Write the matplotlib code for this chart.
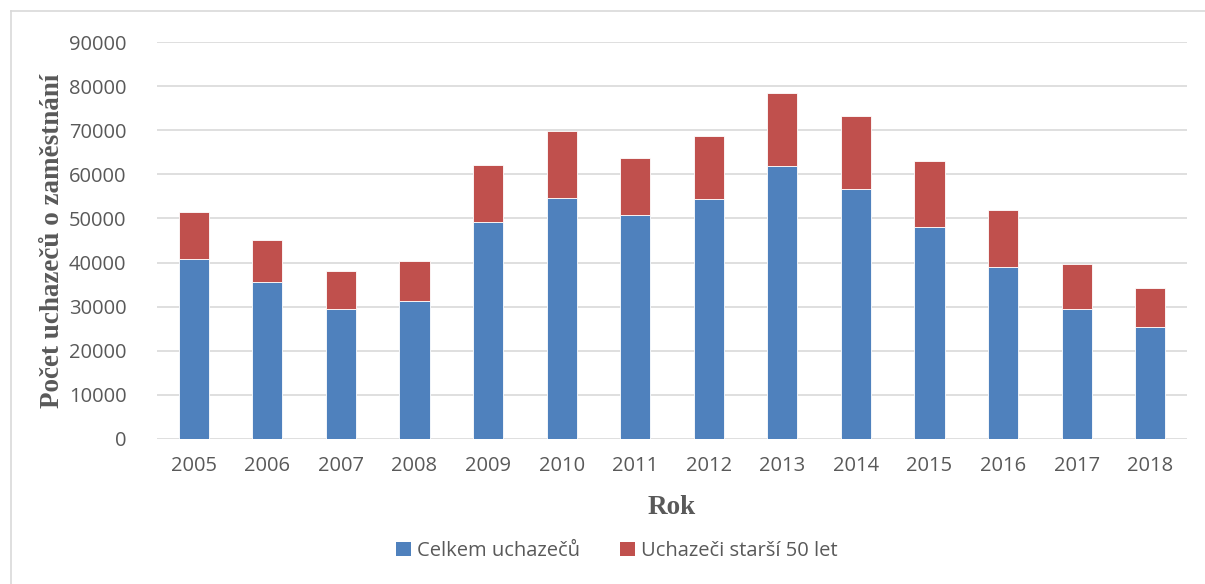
import matplotlib.pyplot as plt
from matplotlib.lines import Line2D
from matplotlib.patches import Patch

# Years and values
years = ["2005", "2006", "2007", "2008", "2009", "2010", "2011",
         "2012", "2013", "2014", "2015", "2016", "2017", "2018"]
celkem = [40700, 35500, 29400, 31200, 49100, 54700, 50700,
          54500, 61800, 56600, 48000, 38900, 29400, 25300]
celkem_s_50 = [51500, 45200, 38100, 40300, 62200, 69900, 63700,
               68800, 78400, 73200, 63100, 51900, 39700, 34300]
starsi_50 = [t - c for t, c in zip(celkem_s_50, celkem)]
y_ticks = list(range(0, 90001, 10000))

BLUE = "#4F81BD"
RED = "#C0504D"
GRID = "#D9D9D9"
TXT = "#595959"

plt.rcParams['font.family'] = ['Open Sans', 'DejaVu Sans']

fig = plt.figure(figsize=(12.05, 5.84), dpi=100)
ax = fig.add_axes([157 / 1205, 1 - 439 / 584, 1030 / 1205, 397 / 584])

x = range(len(years))
ax.bar(x, celkem, width=0.41, color=BLUE, edgecolor="white", linewidth=0.6,
       zorder=3)
ax.bar(x, starsi_50, width=0.41, bottom=celkem, color=RED, edgecolor="white",
       linewidth=0.6, zorder=3)

ax.set_xlim(-0.5, len(years) - 0.5)
ax.set_ylim(0, 90000)
ax.set_yticks(y_ticks)
ax.set_yticklabels([str(v) for v in y_ticks])
ax.set_xticks(list(x))
ax.set_xticklabels(years)
ax.tick_params(axis="both", length=0, labelsize=14.5, colors=TXT)
ax.tick_params(axis="y", pad=22)
ax.tick_params(axis="x", pad=12)
ax.yaxis.grid(True, color=GRID, linewidth=1.2, zorder=0)
for s in ax.spines.values():
    s.set_visible(False)

ax.set_xlabel("Rok", family="Liberation Serif", fontweight="bold",
              fontsize=19.5, color=TXT, labelpad=14)
ax.set_ylabel("Počet uchazečů o zaměstnání", family="Liberation Serif",
              fontweight="bold", fontsize=19.5, color=TXT, labelpad=3)

handles = [Patch(facecolor=BLUE), Patch(facecolor=RED)]
fig.legend(handles, ["Celkem uchazečů", "Uchazeči starší 50 let"],
           loc="center", bbox_to_anchor=(0.512, 1 - 551 / 584), ncol=2,
           frameon=False, fontsize=14.5, labelcolor=TXT, handlelength=0.75,
           handleheight=0.75, handletextpad=0.3, columnspacing=2.0)

# light frame around the chart area (cut off at right and bottom)
fig.add_artist(Line2D([11 / 1205, 11 / 1205], [0, 1 - 11 / 584],
                      transform=fig.transFigure, color=GRID, linewidth=1.2))
fig.add_artist(Line2D([11 / 1205, 1], [1 - 11 / 584, 1 - 11 / 584],
                      transform=fig.transFigure, color=GRID, linewidth=1.2))

fig.savefig("out.png", dpi=100)
